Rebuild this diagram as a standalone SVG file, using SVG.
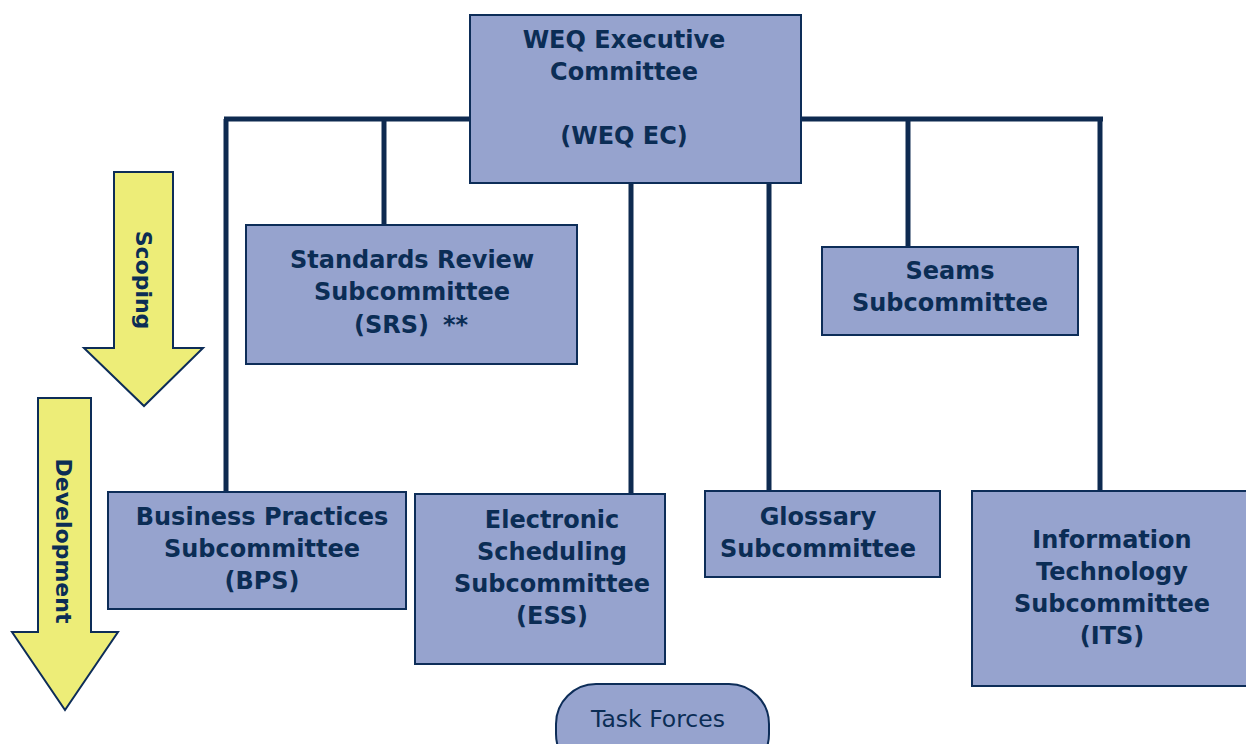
<svg xmlns="http://www.w3.org/2000/svg" width="1246" height="744" viewBox="0 0 1246 744">
<style>
.box{fill:#96A3CE;stroke:#0D2D58;stroke-width:2}
.t{font-family:"DejaVu Sans",Verdana,sans-serif;font-weight:bold;font-size:24px;fill:#0B2D55;text-anchor:middle}
.r{font-family:"DejaVu Sans",Verdana,sans-serif;font-size:23.5px;fill:#0B2D55;text-anchor:middle}
.arr{fill:#EDED78;stroke:#0D2D58;stroke-width:2}
.ln{stroke:#0E2A50;stroke-width:5;fill:none}
</style>
<rect width="1246" height="744" fill="#fff"/>
<g id="connectors">
<path class="ln" d="M224 119H1103"/>
<path class="ln" d="M226 119V492"/>
<path class="ln" d="M384 119V225"/>
<path class="ln" d="M631 183V494"/>
<path class="ln" d="M769 183V491"/>
<path class="ln" d="M908 119V247"/>
<path class="ln" d="M1100 119V491"/>
</g>
<g id="ec">
<rect class="box" x="470" y="15" width="331" height="168"/>
<text class="t" x="624" y="48">WEQ Executive</text>
<text class="t" x="624" y="80">Committee</text>
<text class="t" x="624" y="144">(WEQ EC)</text>
</g>
<g id="srs">
<rect class="box" x="246" y="225" width="331" height="139"/>
<text class="t" x="412" y="268">Standards Review</text>
<text class="t" x="412" y="300">Subcommittee</text>
<text class="t" x="411" y="333">(SRS)<tspan dx="14">**</tspan></text>
</g>
<g id="seams">
<rect class="box" x="822" y="247" width="256" height="88"/>
<text class="t" x="950" y="279">Seams</text>
<text class="t" x="950" y="311">Subcommittee</text>
</g>
<g id="bps">
<rect class="box" x="108" y="492" width="298" height="117"/>
<text class="t" x="262" y="525">Business Practices</text>
<text class="t" x="262" y="557">Subcommittee</text>
<text class="t" x="262" y="589">(BPS)</text>
</g>
<g id="ess">
<rect class="box" x="415" y="494" width="250" height="170"/>
<text class="t" x="552" y="528">Electronic</text>
<text class="t" x="552" y="560">Scheduling</text>
<text class="t" x="552" y="592">Subcommittee</text>
<text class="t" x="552" y="624">(ESS)</text>
</g>
<g id="glossary">
<rect class="box" x="705" y="491" width="235" height="86"/>
<text class="t" x="818" y="525">Glossary</text>
<text class="t" x="818" y="557">Subcommittee</text>
</g>
<g id="its">
<rect class="box" x="972" y="491" width="280" height="195"/>
<text class="t" x="1112" y="548">Information</text>
<text class="t" x="1112" y="580">Technology</text>
<text class="t" x="1112" y="612">Subcommittee</text>
<text class="t" x="1112" y="644">(ITS)</text>
</g>
<g id="taskforces">
<rect class="box" x="556" y="684" width="213" height="90" rx="40"/>
<text class="r" x="658" y="727">Task Forces</text>
</g>
<g id="scoping">
<path class="arr" d="M114 172H173V348H203L144 406L84 348H114Z"/>
<text class="t" style="font-size:22px" transform="translate(136 280) rotate(90)">Scoping</text>
</g>
<g id="development">
<path class="arr" d="M38 398H91V632H118L65 710L12 632H38Z"/>
<text class="t" style="font-size:22px" transform="translate(56 541) rotate(90)">Development</text>
</g>
</svg>
